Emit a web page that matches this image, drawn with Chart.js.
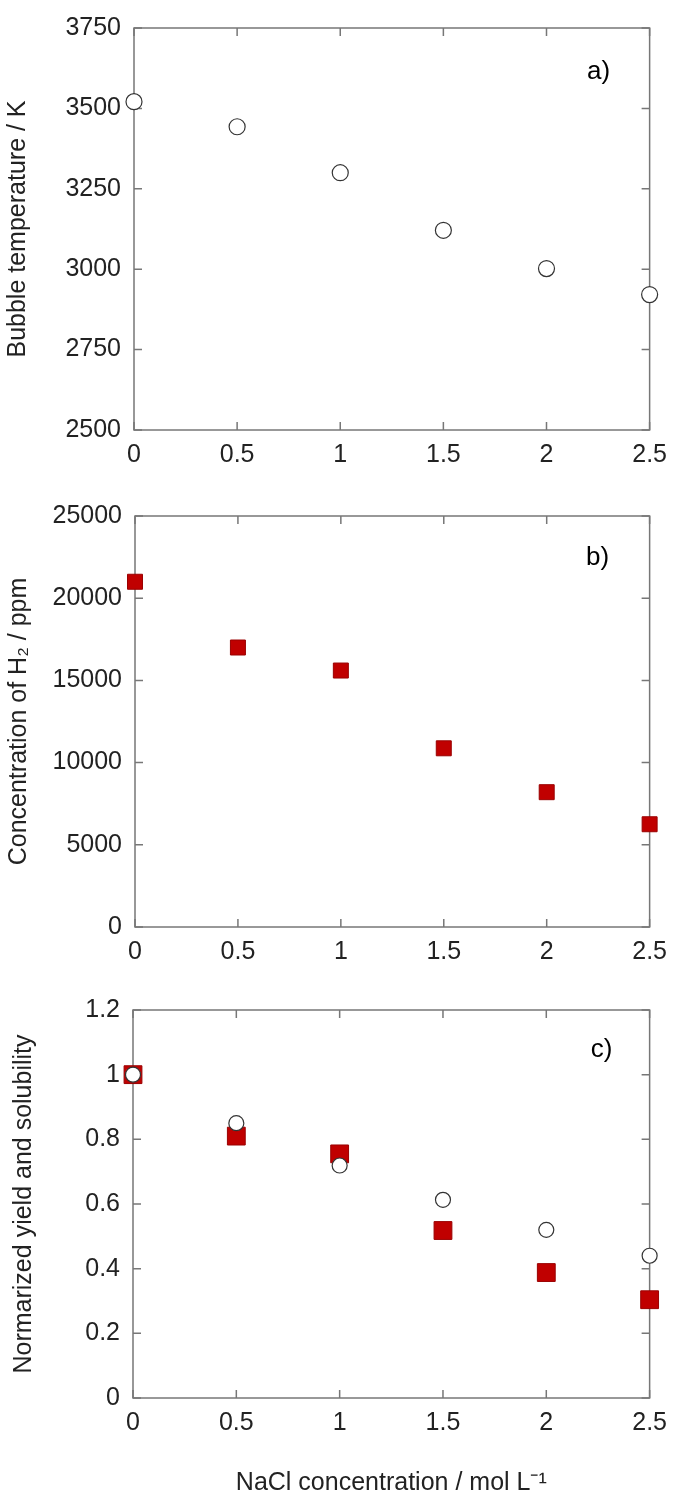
<!DOCTYPE html>
<html>
<head>
<meta charset="utf-8">
<script src="https://cdn.jsdelivr.net/npm/chart.js@4.4.1/dist/chart.umd.min.js"></script>
<style>
  html, body { margin: 0; padding: 0; background: #fff; }
  #wrap { position: relative; width: 677px; height: 1508px; }
  canvas { position: absolute; left: 0; }
</style>
</head>
<body>
<div id="wrap">
  <canvas id="chartA" width="677" height="470" style="top:0px"></canvas>
  <canvas id="chartB" width="677" height="490" style="top:470px"></canvas>
  <canvas id="chartC" width="677" height="548" style="top:960px"></canvas>
</div>
<script>
// data
const nacl = [0, 0.5, 1, 1.5, 2, 2.5];
const bubbleTemp = [3521, 3443, 3300, 3121, 3002, 2921];
const h2Conc = [21000, 17000, 15600, 10870, 8200, 6250];
const normYield = [1.0, 0.81, 0.755, 0.518, 0.388, 0.304];
const normSolubility = [1.0, 0.85, 0.719, 0.613, 0.52, 0.44];

// tick labels
const xTicks = [0, 0.5, 1, 1.5, 2, 2.5];
const tempTicks = [2500, 2750, 3000, 3250, 3500, 3750];
const h2Ticks = [0, 5000, 10000, 15000, 20000, 25000];
const normTicks = [0, 0.2, 0.4, 0.6, 0.8, 1, 1.2];

const FONT = "'Liberation Sans', Arial, sans-serif";
const TEXT = '#222222';
const RED = '#c00000';

function points(ys) {
  return nacl.map((x, i) => ({ x: x, y: ys[i] }));
}

// box around the plot with inward ticks on all four sides
const framePlugin = {
  id: 'frame',
  beforeDatasetsDraw(chart) {
    const { ctx, chartArea: a, scales } = chart;
    const len = 8;
    ctx.save();
    ctx.strokeStyle = '#777777';
    ctx.lineWidth = 1.5;
    ctx.strokeRect(a.left, a.top, a.right - a.left, a.bottom - a.top);
    ctx.beginPath();
    scales.x.ticks.forEach(t => {
      const px = scales.x.getPixelForValue(t.value);
      ctx.moveTo(px, a.bottom); ctx.lineTo(px, a.bottom - len);
      ctx.moveTo(px, a.top); ctx.lineTo(px, a.top + len);
    });
    scales.y.ticks.forEach(t => {
      const py = scales.y.getPixelForValue(t.value);
      ctx.moveTo(a.left, py); ctx.lineTo(a.left + len, py);
      ctx.moveTo(a.right, py); ctx.lineTo(a.right - len, py);
    });
    ctx.stroke();
    ctx.restore();
  }
};

// a) b) c) in the top right corner
const panelLabel = {
  id: 'panelLabel',
  afterDraw(chart, args, opts) {
    const { ctx, chartArea: a } = chart;
    ctx.save();
    ctx.font = '26px ' + FONT;
    ctx.fillStyle = '#000';
    ctx.textAlign = 'center';
    ctx.textBaseline = 'middle';
    ctx.fillText(opts.text, a.right - opts.dx, a.top + opts.dy);
    ctx.restore();
  }
};

function makeChart(id, cfg) {
  return new Chart(document.getElementById(id), {
    type: 'scatter',
    data: { datasets: cfg.datasets },
    options: {
      responsive: false,
      animation: false,
      layout: { padding: cfg.padding },
      plugins: {
        legend: { display: false },
        tooltip: { enabled: false },
        panelLabel: cfg.label
      },
      scales: {
        x: {
          type: 'linear',
          min: 0, max: 2.5,
          afterBuildTicks: axis => { axis.ticks = xTicks.map(v => ({ value: v })); },
          afterFit: axis => { axis.height = cfg.xHeight; },
          grid: { display: false, drawTicks: false },
          border: { display: false },
          ticks: { color: TEXT, font: { family: FONT, size: 25 }, padding: 10, maxRotation: 0,
                   callback: v => String(v) },
          title: cfg.xTitle || { display: false }
        },
        y: {
          type: 'linear',
          min: cfg.yTicks[0], max: cfg.yTicks[cfg.yTicks.length - 1],
          afterBuildTicks: axis => { axis.ticks = cfg.yTicks.map(v => ({ value: v })); },
          afterFit: axis => { axis.width = cfg.yWidth; },
          grid: { display: false, drawTicks: false },
          border: { display: false },
          ticks: { color: TEXT, font: { family: FONT, size: 25 }, padding: 13,
                   callback: v => String(v) },
          title: {
            display: true,
            text: cfg.yTitle,
            color: TEXT,
            font: { family: FONT, size: 25 },
            padding: { top: cfg.yTitlePad, bottom: 0 }
          }
        }
      }
    },
    plugins: [framePlugin, panelLabel]
  });
}

const circleStyle = {
  pointStyle: 'circle',
  backgroundColor: '#ffffff',
  borderColor: '#333333',
  borderWidth: 1.2,
  showLine: false,
  clip: false
};
const squareStyle = {
  pointStyle: 'rect',
  backgroundColor: RED,
  borderColor: '#9a0000',
  borderWidth: 1,
  showLine: false,
  clip: false
};

// a) bubble temperature
makeChart('chartA', {
  datasets: [Object.assign({ data: points(bubbleTemp), pointRadius: 8 }, circleStyle)],
  padding: { left: 0, right: 24, top: 19, bottom: 0 },
  yWidth: 134,
  xHeight: 40,
  yTicks: tempTicks,
  yTitle: 'Bubble temperature / K',
  yTitlePad: 3,
  label: { text: 'a)', dx: 51, dy: 44 }
});

// b) H2 concentration
makeChart('chartB', {
  datasets: [Object.assign({ data: points(h2Conc), pointRadius: 10.6 }, squareStyle)],
  padding: { left: 0, right: 23, top: 46, bottom: 0 },
  yWidth: 135,
  xHeight: 33,
  yTicks: h2Ticks,
  yTitle: 'Concentration of H\u2082 / ppm',
  yTitlePad: 4,
  label: { text: 'b)', dx: 52, dy: 42 }
});

// c) normalized yield (squares) and solubility (circles)
makeChart('chartC', {
  datasets: [
    Object.assign({ data: points(normSolubility), pointRadius: 7.5, order: 0 }, circleStyle),
    Object.assign({ data: points(normYield), pointRadius: 12.6, order: 1 }, squareStyle)
  ],
  padding: { left: 0, right: 21, top: 50, bottom: 0 },
  yWidth: 133,
  xHeight: 110,
  yTicks: normTicks,
  yTitle: 'Normarized yield and solubility',
  yTitlePad: 9,
  xTitle: {
    display: true,
    text: 'NaCl concentration / mol L\u207B\u00B9',
    color: TEXT,
    font: { family: FONT, size: 25 },
    padding: { top: 0, bottom: 10 }
  },
  label: { text: 'c)', dx: 48, dy: 40 }
});
</script>
</body>
</html>
